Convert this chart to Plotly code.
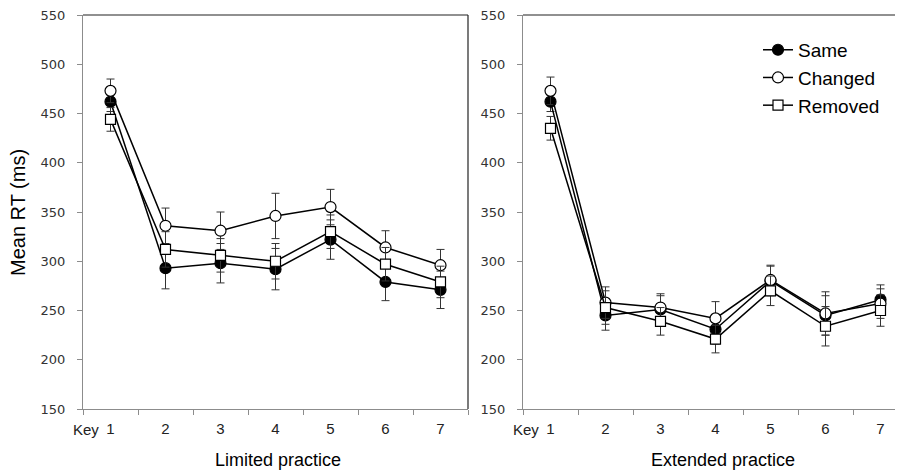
import plotly.graph_objects as go

keys = [1, 2, 3, 4, 5, 6, 7]
series_names = ["Same", "Changed", "Removed"]

# Limited practice
lim_same = [462, 293, 298, 292, 322, 279, 271]
lim_changed = [473, 336, 331, 346, 355, 314, 296]
lim_removed = [444, 312, 306, 300, 330, 297, 279]
lim_same_err = [10, 21, 20, 21, 20, 19, 19]
lim_changed_err = [12, 18, 19, 23, 18, 17, 16]
lim_removed_err = [12, 18, 17, 18, 17, 17, 16]

# Extended practice
ext_same = [462, 245, 251, 231, 280, 245, 261]
ext_changed = [473, 258, 253, 242, 281, 247, 257]
ext_removed = [435, 253, 239, 221, 270, 234, 250]
ext_same_err = [10, 15, 14, 15, 15, 20, 15]
ext_changed_err = [14, 16, 14, 17, 15, 22, 15]
ext_removed_err = [12, 17, 14, 14, 15, 20, 16]

y_ticks = [150, 200, 250, 300, 350, 400, 450, 500, 550]

# page body has an 8px margin; the figure is sized to fill the rest of the window
OFF = 8
W, H = 903 - OFF, 475 - OFF
T_MARGIN = 13 - OFF
PLOT_BOTTOM = 409 - OFF
B_MARGIN = H - PLOT_BOTTOM
PLOT_H = PLOT_BOTTOM - T_MARGIN

styles = {
    "Same": dict(symbol="circle", color="black", line=dict(color="black", width=1.2), size=11),
    "Changed": dict(symbol="circle", color="white", line=dict(color="black", width=1.2), size=11),
    "Removed": dict(symbol="square", color="white", line=dict(color="black", width=1.2), size=10),
}

fig = go.Figure()

panels = [
    ("x", "y", [lim_same, lim_changed, lim_removed], [lim_same_err, lim_changed_err, lim_removed_err], True),
    ("x2", "y2", [ext_same, ext_changed, ext_removed], [ext_same_err, ext_changed_err, ext_removed_err], False),
]

for xa, ya, vals, errs, show in panels:
    for name, v, e in zip(series_names, vals, errs):
        fig.add_trace(go.Scatter(
            x=keys, y=v, name=name, mode="lines+markers",
            xaxis=xa, yaxis=ya, showlegend=show,
            line=dict(color="black", width=1.5),
            marker=styles[name],
            error_y=dict(type="data", array=e, visible=True, color="#333333", thickness=1, width=4),
        ))


def px_x(p):
    """screen pixel x -> paper x"""
    return (p - OFF) / W


def px_y(p):
    """screen pixel y -> paper y"""
    return 1 - (p - OFF - T_MARGIN) / PLOT_H


yaxis_common = dict(
    range=[150, 550], tickvals=y_ticks, ticks="outside", ticklen=5, tickcolor="#8c8c8c",
    showline=True, linecolor="#8c8c8c", linewidth=1, showgrid=False, zeroline=False,
    tickfont=dict(family="DejaVu Sans", size=13, color="#333333"), ticklabelstandoff=9,
    ticklabeloverflow="allow",
)
xaxis_common = dict(
    tickmode="linear", tick0=1, dtick=1, ticks="",
    showline=True, linecolor="#8c8c8c", linewidth=1, showgrid=False, zeroline=False,
    tickfont=dict(family="Liberation Sans, Arial, sans-serif", size=15, color="#222222"),
    ticklabelstandoff=6,
    minor=dict(ticks="outside", ticklen=5, tickcolor="#8c8c8c", tick0=0.5, dtick=1, showgrid=False),
)

right_end = 0.5 + (903 - 523) / 55.0

fig.update_layout(
    width=W, height=H,
    margin=dict(l=0, r=0, t=T_MARGIN, b=B_MARGIN),
    paper_bgcolor="white", plot_bgcolor="white",
    xaxis=dict(domain=[px_x(83), px_x(468)], range=[0.5, 7.5], anchor="y", **xaxis_common),
    xaxis2=dict(domain=[px_x(523), 1.0], range=[0.5, right_end], anchor="y2", **xaxis_common),
    yaxis=dict(domain=[0, 1], anchor="x", **yaxis_common),
    yaxis2=dict(domain=[0, 1], anchor="x2", **yaxis_common),
    showlegend=True,
    legend=dict(
        x=px_x(758), y=px_y(29),
        xanchor="left", yanchor="top",
        font=dict(family="Liberation Sans, Arial, sans-serif", size=19, color="black"),
        bgcolor="rgba(0,0,0,0)", itemwidth=30, tracegroupgap=0,
    ),
)

# frame lines (top and right) in dark
border = dict(color="#222222", width=1.2)
fig.add_shape(type="line", xref="x domain", yref="y domain", x0=0, x1=1, y0=1, y1=1, line=border)
fig.add_shape(type="line", xref="x domain", yref="y domain", x0=1, x1=1, y0=0, y1=1, line=border)
fig.add_shape(type="line", xref="x2 domain", yref="y2 domain", x0=0, x1=1, y0=1, y1=1, line=border)

title_font = dict(family="Liberation Sans, Arial, sans-serif", size=18, color="black")
key_font = dict(family="Liberation Sans, Arial, sans-serif", size=15, color="#222222")

fig.add_annotation(text="Mean RT (ms)", textangle=-90, xref="paper", yref="paper",
                   x=px_x(18), y=px_y(212), xanchor="center", yanchor="middle", showarrow=False,
                   font=dict(family="Liberation Sans, Arial, sans-serif", size=20, color="black"))
fig.add_annotation(text="Limited practice", xref="paper", yref="paper",
                   x=px_x(278), y=px_y(460), xanchor="center", yanchor="middle",
                   showarrow=False, font=title_font)
fig.add_annotation(text="Extended practice", xref="paper", yref="paper",
                   x=px_x(723), y=px_y(460), xanchor="center", yanchor="middle",
                   showarrow=False, font=title_font)
fig.add_annotation(text="Key", xref="x", yref="paper", x=0.55, y=px_y(430),
                   xanchor="center", yanchor="middle", showarrow=False, font=key_font)
fig.add_annotation(text="Key", xref="x2", yref="paper", x=0.55, y=px_y(430),
                   xanchor="center", yanchor="middle", showarrow=False, font=key_font)

fig.write_html("out.html")
